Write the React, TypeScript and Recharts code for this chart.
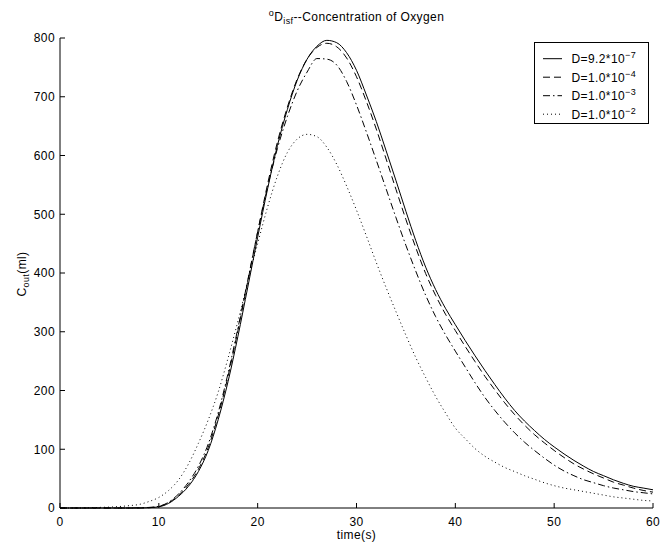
import React from 'react';
import { LineChart, Line, XAxis, YAxis } from 'recharts';

const timeS = [0,1,2,3,4,5,6,7,8,9,10,11,12,13,14,15,16,17,18,19,20,21,22,23,24,25,26,27,28,29,30,31,32,33,34,35,36,37,38,39,40,41,42,43,44,45,46,47,48,49,50,51,52,53,54,55,56,57,58,59,60];

const d92e7 = [0,0,0,0,0,0,0,0,0,0.5,2,8,20,37,62,98,150,215,292,376,461,543,617,678,728,764,786,796,792,775,745,703,658,608,557,505,455,410,372,340,312,285,259,234,210,187,166,148,132,117,104,92,81,71,62,55,48,42,37,34,31];
const d1e4 = [0,0,0,0,0,0,0,0,0,0.5,2.5,9,22,40,66,103,157,224,302,386,470,551,623,682,730,764,784,791,785,766,734,692,645,594,542,491,443,399,362,330,302,275,249,224,201,179,159,141,125,111,98,86,75,66,58,51,44,39,34,30,27];
const d1e3 = [0,0,0,0,0,0,0,0,0.5,1,3,10,24,44,71,109,162,229,306,388,470,546,612,666,710,742,765,764,754,726,686,640,592,543,494,447,403,362,326,295,267,240,213,188,166,146,128,112,98,85,73,63,55,48,43,38,34,31,28,26,24];
const d1e2 = [0,0,0,0.5,1,1.5,2.5,4,6,11,18,30,48,75,110,150,197,255,318,385,450,512,565,605,628,636,632,614,585,548,507,463,418,375,334,294,256,222,190,162,136,118,101,88,78,69,62,55,49,43,38,34,31,28,25,22,19,17,15,13,12];

const xTicks = [0, 10, 20, 30, 40, 50, 60];
const yTicks = [0, 100, 200, 300, 400, 500, 600, 700, 800];

const seriesNames = ['D=9.2*10', 'D=1.0*10', 'D=1.0*10', 'D=1.0*10'];
const seriesExps = ['\u22127', '\u22124', '\u22123', '\u22122'];
const seriesKeys = ['a', 'b', 'c', 'd'];
const seriesDash = ['', '7 4', '7 3 1.5 3', '1 3'];

const data = timeS.map((t, i) => ({ t, a: d92e7[i], b: d1e4[i], c: d1e3[i], d: d1e2[i] }));

const FONT = '"Liberation Sans", Arial, Helvetica, sans-serif';
const FS = 12;
const LS = 0.4;
const TL = 5;

const BottomTick = (props: any) => {
  const { x, y, payload } = props;
  return (
    <g>
      <line x1={x} x2={x} y1={y} y2={y - TL} stroke="#000" strokeWidth={1} />
      <text x={x} y={y + 9} dy="0.71em" textAnchor="middle" fontSize={FS} fontFamily={FONT} letterSpacing={LS} fill="#000">
        {payload.value}
      </text>
    </g>
  );
};

const TopTick = (props: any) => {
  const { x, y } = props;
  return (
    <g>
      <line x1={x} x2={x} y1={y} y2={y + TL} stroke="#000" strokeWidth={1} />
    </g>
  );
};

const LeftTick = (props: any) => {
  const { x, y, payload } = props;
  return (
    <g>
      <line x1={x} x2={x + TL} y1={y} y2={y} stroke="#000" strokeWidth={1} />
      <text x={x - 5} y={y} dy="0.36em" textAnchor="end" fontSize={FS} fontFamily={FONT} letterSpacing={LS} fill="#000">
        {payload.value}
      </text>
    </g>
  );
};

const RightTick = (props: any) => {
  const { x, y } = props;
  return (
    <g>
      <line x1={x} x2={x - TL} y1={y} y2={y} stroke="#000" strokeWidth={1} />
    </g>
  );
};

export default function App() {
  return (
    <div style={{ position: 'absolute', left: 0, top: 0, width: 662, height: 548, background: '#fff', fontFamily: FONT }}>
      <LineChart width={662} height={548} data={data} margin={{ top: 38, right: 9, left: 0, bottom: 10 }}>
        <XAxis
          xAxisId={0}
          dataKey="t"
          type="number"
          domain={[0, 60]}
          ticks={xTicks}
          interval={0}
          height={30}
          tickSize={0}
          tickMargin={0}
          tickLine={false}
          axisLine={{ stroke: '#000', strokeWidth: 1 }}
          tick={(p: any) => <BottomTick {...p} />}
        />
        <XAxis
          xAxisId="top"
          orientation="top"
          dataKey="t"
          type="number"
          domain={[0, 60]}
          ticks={xTicks}
          interval={0}
          height={0}
          tickSize={0}
          tickMargin={0}
          tickLine={false}
          axisLine={{ stroke: '#000', strokeWidth: 1 }}
          tick={(p: any) => <TopTick {...p} />}
        />
        <YAxis
          yAxisId={0}
          type="number"
          domain={[0, 800]}
          ticks={yTicks}
          interval={0}
          width={60}
          tickSize={0}
          tickMargin={0}
          tickLine={false}
          axisLine={{ stroke: '#000', strokeWidth: 1 }}
          tick={(p: any) => <LeftTick {...p} />}
        />
        <YAxis
          yAxisId="right"
          orientation="right"
          type="number"
          domain={[0, 800]}
          ticks={yTicks}
          interval={0}
          width={0}
          tickSize={0}
          tickMargin={0}
          tickLine={false}
          axisLine={{ stroke: '#000', strokeWidth: 1 }}
          tick={(p: any) => <RightTick {...p} />}
        />
        {seriesKeys.map((k, i) => (
          <Line
            key={k}
            xAxisId={0}
            yAxisId={0}
            type="monotone"
            dataKey={k}
            stroke="#000"
            strokeWidth={1}
            strokeDasharray={seriesDash[i] || undefined}
            dot={false}
            activeDot={false}
            isAnimationActive={false}
          />
        ))}
      </LineChart>
      <svg width={662} height={548} style={{ position: 'absolute', left: 0, top: 0, pointerEvents: 'none' }}>
        <text x={356.5} y={20.5} textAnchor="middle" fontSize={FS} fontFamily={FONT} letterSpacing={LS} fill="#000">
          <tspan fontSize={9} dy={-5}>o</tspan>
          <tspan dy={5}>D</tspan>
          <tspan fontSize={9} dy={3}>isf</tspan>
          <tspan dy={-3}>--Concentration of Oxygen</tspan>
        </text>
        <text x={356.5} y={539} textAnchor="middle" fontSize={FS} fontFamily={FONT} letterSpacing={LS} fill="#000">time(s)</text>
        <text transform="translate(26,274) rotate(-90)" textAnchor="middle" fontSize={FS} fontFamily={FONT} letterSpacing={LS} fill="#000">
          C<tspan fontSize={9} dy={3}>out</tspan><tspan dy={-3}>(ml)</tspan>
        </text>
        <rect x={534.5} y={42.5} width={114} height={81} fill="#fff" stroke="#000" strokeWidth={1} />
        {seriesNames.map((name, i) => {
          const cy = 58.7 + i * 18.5;
          return (
            <g key={i}>
              <line x1={543} x2={562} y1={cy} y2={cy} stroke="#000" strokeWidth={1} strokeDasharray={seriesDash[i] || undefined} />
              <text x={571.5} y={cy + 4.3} fontSize={FS} fontFamily={FONT} letterSpacing={LS} fill="#000">
                {name}<tspan fontSize={9} dy={-5}>{seriesExps[i]}</tspan>
              </text>
            </g>
          );
        })}
      </svg>
    </div>
  );
}
